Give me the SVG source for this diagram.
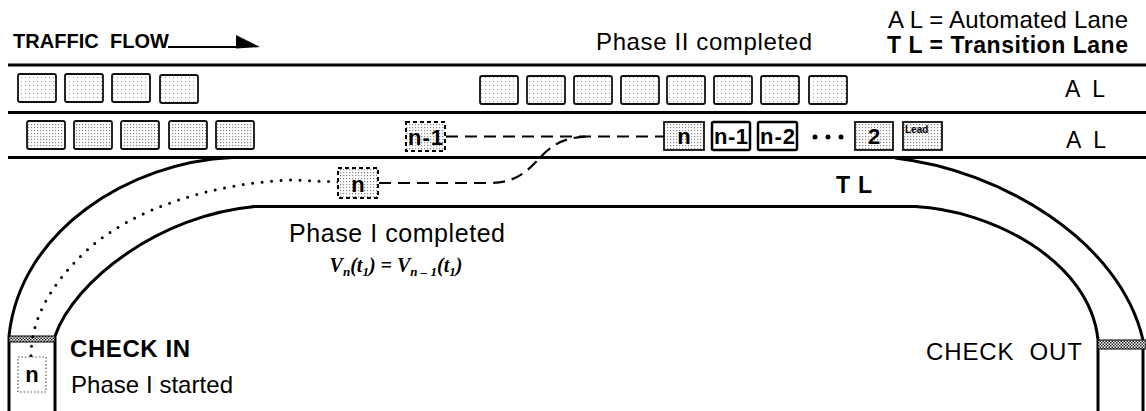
<svg xmlns="http://www.w3.org/2000/svg" width="1146" height="411" viewBox="0 0 1146 411">
<defs>
<pattern id="stipL" width="4" height="4" patternUnits="userSpaceOnUse"><rect width="4" height="4" fill="#fff"/><rect x="1" y="1" width="1" height="1" fill="#999"/></pattern>
<pattern id="stip" width="3" height="3" patternUnits="userSpaceOnUse"><rect width="3" height="3" fill="#fff"/><rect x="1" y="1" width="1.2" height="1.2" fill="#888"/></pattern>
<pattern id="chk" width="3" height="3" patternUnits="userSpaceOnUse"><rect width="3" height="3" fill="#fff"/><rect width="1.5" height="1.5" fill="#222"/><rect x="1.5" y="1.5" width="1.5" height="1.5" fill="#222"/></pattern>
<style>
.road{fill:none;stroke:#000;stroke-width:3}
.car{stroke:#111;stroke-width:1.8}
.carL{fill:url(#stipL)}
.carD{fill:url(#stip)}
.bold{stroke:#000;stroke-width:2.5;fill:#fff}
.dash{fill:url(#stip);stroke:#000;stroke-width:2;stroke-dasharray:4 3}
.t{font-family:"Liberation Sans",Arial,sans-serif;fill:#000}
.b{font-weight:bold}
.lbl{font-family:"Liberation Sans",Arial,sans-serif;font-weight:bold;fill:#000;text-anchor:middle;font-size:22px}
.con{fill:none;stroke:#000;stroke-width:2.2;stroke-dasharray:12 7}
.dot{fill:none;stroke:#000;stroke-width:3;stroke-linecap:round;stroke-dasharray:0 9.5}
</style>
</defs>
<rect width="1146" height="411" fill="#fff"/>

<g id="road">
<line class="road" x1="8" y1="65" x2="1146" y2="65"/>
<line class="road" x1="8" y1="112.5" x2="1146" y2="112.5"/>
<line class="road" x1="8" y1="157.5" x2="1146" y2="157.5"/>
<line class="road" x1="252" y1="206.5" x2="918" y2="206.5"/>
<path class="road" d="M232,157.5 C130,162 20,230 9,336 L9,411"/>
<path class="road" d="M255,206.5 C160,215 75,280 55,336 L55,411"/>
<path class="road" d="M895,158 C1000,170 1120,240 1143,340 L1143,411"/>
<path class="road" d="M915,206.5 C990,210 1090,260 1098,340 L1098,411"/>
<rect x="9" y="336" width="46" height="6" fill="url(#chk)" stroke="#000" stroke-width="1"/>
<rect x="1098" y="340" width="48" height="9" fill="url(#chk)" stroke="#000" stroke-width="1"/>
</g>

<g id="header">
<text class="t b" x="13" y="48" font-size="20" textLength="156" xml:space="preserve">TRAFFIC  FLOW</text>
<line x1="168" y1="47" x2="240" y2="47" stroke="#000" stroke-width="1.8"/>
<polygon points="236,35 260,47 236,48.5" fill="#000"/>
<text class="t" x="596" y="50" font-size="24" textLength="216">Phase II completed</text>
<text class="t" x="888" y="28" font-size="24" textLength="240">A L = Automated Lane</text>
<text class="t b" x="887" y="53" font-size="23" textLength="241">T L = Transition Lane</text>
<text class="t" x="1065" y="97" font-size="23" textLength="40">A L</text>
<text class="t" x="1066" y="148" font-size="23" textLength="40">A L</text>
<text class="t b" x="836" y="193" font-size="23" textLength="36">T L</text>
</g>

<g id="row1-left">
<rect class="car carL" x="18" y="74" width="38" height="28" rx="2"/>
<rect class="car carL" x="65" y="74" width="38" height="28" rx="2"/>
<rect class="car carL" x="112" y="74" width="38" height="28" rx="2"/>
<rect class="car carL" x="160" y="75" width="38" height="28" rx="2"/>
</g>
<g id="row1-right">
<rect class="car carL" x="480" y="76" width="38" height="28" rx="2"/>
<rect class="car carL" x="527" y="76" width="38" height="28" rx="2"/>
<rect class="car carL" x="574" y="76" width="38" height="28" rx="2"/>
<rect class="car carL" x="621" y="76" width="38" height="28" rx="2"/>
<rect class="car carL" x="667" y="76" width="38" height="28" rx="2"/>
<rect class="car carL" x="714" y="76" width="38" height="28" rx="2"/>
<rect class="car carL" x="761" y="76" width="38" height="28" rx="2"/>
<rect class="car carL" x="809" y="76" width="38" height="28" rx="2"/>
</g>
<g id="row2-left">
<rect class="car carD" x="27" y="121" width="38" height="28" rx="2"/>
<rect class="car carD" x="74" y="121" width="38" height="28" rx="2"/>
<rect class="car carD" x="121" y="121" width="38" height="28" rx="2"/>
<rect class="car carD" x="169" y="121" width="38" height="28" rx="2"/>
<rect class="car carD" x="216" y="121" width="38" height="28" rx="2"/>
</g>

<g id="connectors">
<line class="con" x1="446" y1="136.5" x2="664" y2="136.5"/>
<path class="con" d="M379,183 L490,183 C525,183 535,160 548,150 C558,142 568,137 590,136.5"/>
<path class="dot" d="M338,182 L292,180 C210,183 130,210 85,252 C45,290 31,325 31,356"/>
</g>

<g id="car-n-1-ghost">
<rect class="dash" x="406" y="122" width="39" height="29"/>
<text class="lbl" x="425.5" y="145" textLength="35">n-1</text>
</g>
<g id="car-n">
<rect class="car carD" x="664" y="122" width="40" height="28" stroke-width="2.2"/>
<text class="lbl" x="684" y="144" font-size="24">n</text>
</g>
<g id="car-n-1">
<rect class="bold" x="712" y="122" width="38" height="28" rx="1.5"/>
<text class="lbl" x="731" y="144" textLength="34">n-1</text>
</g>
<g id="car-n-2">
<rect class="bold" x="758" y="122" width="39" height="28" rx="1.5"/>
<text class="lbl" x="777.5" y="144" textLength="35">n-2</text>
</g>
<g id="dots">
<circle cx="815" cy="137" r="2.5"/><circle cx="828" cy="137" r="2.5"/><circle cx="841" cy="137" r="2.5"/>
</g>
<g id="car-2">
<rect class="car carD" x="855" y="122" width="38" height="28" stroke-width="2.2"/>
<text class="lbl" x="874" y="144" font-size="23">2</text>
</g>
<g id="car-lead">
<rect class="car carD" x="903" y="122" width="39" height="28" stroke-width="2"/>
<text class="t b" x="905" y="133" font-size="10">Lead</text>
</g>
<g id="car-n-tl">
<rect class="dash" x="338" y="168" width="40" height="30"/>
<text class="lbl" x="358" y="192" font-size="24">n</text>
</g>
<g id="car-n-checkin">
<rect x="18" y="357" width="28" height="35" fill="#fff" stroke="#555" stroke-width="1.2" stroke-dasharray="1.5 2"/>
<text class="lbl" x="32" y="382" font-size="20">n</text>
</g>

<g id="labels">
<text class="t" x="289" y="242" font-size="25" textLength="216">Phase I completed</text>
<text x="396" y="272" text-anchor="middle" font-family="Liberation Serif,Times New Roman,serif" font-weight="bold" font-style="italic" font-size="20">V<tspan font-size="13" dy="4">n</tspan><tspan dy="-4">(t</tspan><tspan font-size="13" dy="4">1</tspan><tspan dy="-4">) = V</tspan><tspan font-size="13" dy="4">n – 1</tspan><tspan dy="-4">(t</tspan><tspan font-size="13" dy="4">1</tspan><tspan dy="-4">)</tspan></text>
<text class="t b" x="70" y="357" font-size="24" textLength="120">CHECK IN</text>
<text class="t" x="71" y="393" font-size="24" textLength="162">Phase I started</text>
<text class="t" x="926" y="360" font-size="24" textLength="156" xml:space="preserve">CHECK  OUT</text>
</g>
</svg>
